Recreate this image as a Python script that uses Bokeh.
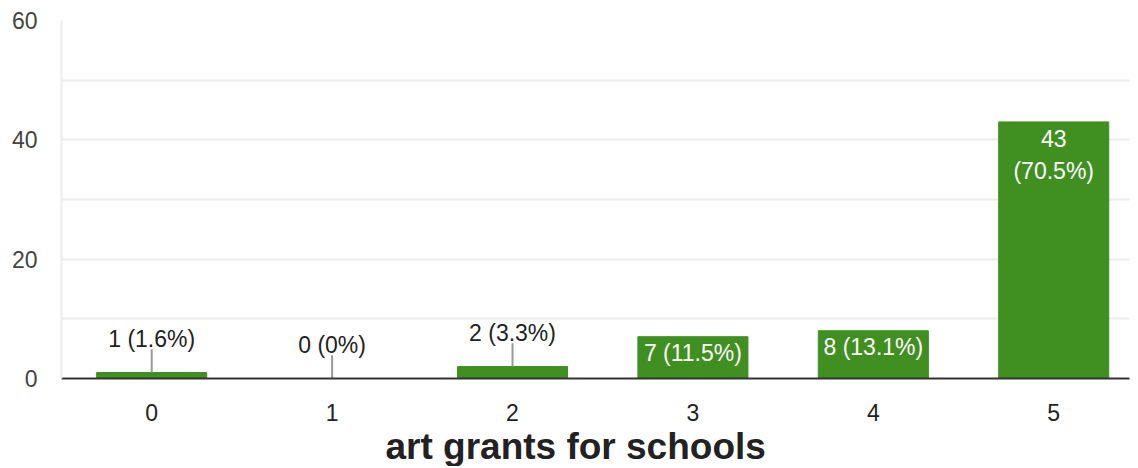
from bokeh.plotting import figure
from bokeh.models import ColumnDataSource, LabelSet, FixedTicker, Range1d, Title
from bokeh.core.properties import value
from bokeh.embed import file_html
from bokeh.resources import INLINE

categories = [0, 1, 2, 3, 4, 5]
counts = [1, 0, 2, 7, 8, 43]
percents = ["1.6%", "0%", "3.3%", "11.5%", "13.1%", "70.5%"]
y_ticks = [0, 20, 40, 60]
x_title = "art grants for schools"

GREEN = "#3f8f21"
FONT = "Liberation Sans"

inside = [c >= 5 for c in counts]
two_line = [c > 20 for c in counts]
lead = 3.9

out_src = ColumnDataSource(dict(
    x=[c for c, i in zip(categories, inside) if not i],
    y=[v for v, i in zip(counts, inside) if not i],
    ytop=[v + lead for v, i in zip(counts, inside) if not i],
    label=[f"{v} ({p})" for v, p, i in zip(counts, percents, inside) if not i],
))
in1_src = ColumnDataSource(dict(
    x=[c for c, i in zip(categories, inside) if i],
    y=[v for v, i in zip(counts, inside) if i],
    label=[(f"{v}" if t else f"{v} ({p})") for v, p, i, t in zip(counts, percents, inside, two_line) if i],
    off=[(-8.0 if t else -3.5) for i, t in zip(inside, two_line) if i],
))
in2_src = ColumnDataSource(dict(
    x=[c for c, t in zip(categories, two_line) if t],
    y=[v for v, t in zip(counts, two_line) if t],
    label=[f"({p})" for p, t in zip(percents, two_line) if t],
))

p = figure(width=1130, height=466, output_backend="svg", toolbar_location=None,
           x_range=Range1d(-0.5, 5.42), y_range=Range1d(0, 60),
           min_border_left=61, min_border_right=1, min_border_top=20, min_border_bottom=0)
p.outline_line_color = None
p.background_fill_color = "white"

p.vbar(x=categories, top=counts, width=0.61, color=GREEN)
p.segment(x0="x", y0="y", x1="x", y1="ytop", source=out_src, line_color="#999999", line_width=2)

p.add_layout(LabelSet(x="x", y="ytop", text="label", source=out_src, text_align="center",
                      text_baseline="bottom", y_offset=-3, text_font=value(FONT),
                      text_font_size=value("23px"), text_color=value("#222222")))
p.add_layout(LabelSet(x="x", y="y", text="label", source=in1_src, text_align="center",
                      text_baseline="top", y_offset="off", text_font=value(FONT),
                      text_font_size=value("23px"), text_color=value("white")))
p.add_layout(LabelSet(x="x", y="y", text="label", source=in2_src, text_align="center",
                      text_baseline="top", y_offset=-36.5, text_font=value(FONT),
                      text_font_size=value("23px"), text_color=value("white")))

# grid
p.xgrid.grid_line_color = None
p.ygrid.ticker = FixedTicker(ticks=[0, 10, 20, 30, 40, 50, 60])
p.ygrid.grid_line_color = "#ececec"
p.ygrid.grid_line_width = 2

# y axis
p.yaxis.ticker = FixedTicker(ticks=y_ticks)
p.yaxis.axis_line_color = "#ececec"
p.yaxis.axis_line_width = 2
p.yaxis.major_tick_line_color = None
p.yaxis.minor_tick_line_color = None
p.yaxis.major_tick_out = 0
p.yaxis.major_label_standoff = 24
p.yaxis.major_label_text_font = FONT
p.yaxis.major_label_text_font_size = "23px"
p.yaxis.major_label_text_color = "#444444"

# x axis
p.xaxis.ticker = FixedTicker(ticks=categories)
p.xaxis.axis_line_color = "#333333"
p.xaxis.axis_line_width = 2
p.xaxis.major_tick_line_color = None
p.xaxis.minor_tick_line_color = None
p.xaxis.major_tick_out = 0
p.xaxis.major_label_standoff = 25
p.xaxis.major_label_text_font = FONT
p.xaxis.major_label_text_font_size = "23px"
p.xaxis.major_label_text_color = "#222222"

p.add_layout(Title(text=x_title, align="left", offset=324, standoff=0,
                   text_font=FONT, text_font_style="bold", text_font_size="37px",
                   text_color="#222222"), "below")

open("out.html", "w").write(file_html(p, INLINE))
